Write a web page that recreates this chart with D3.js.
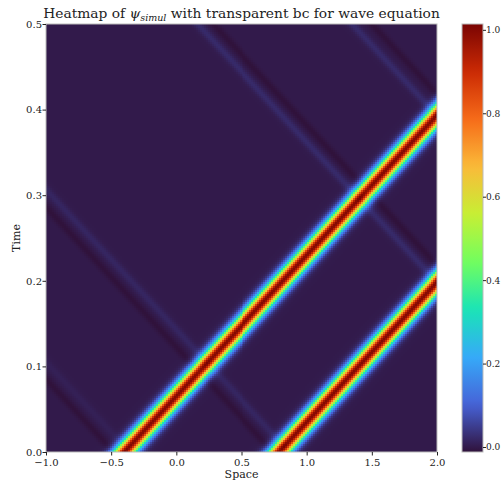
<!DOCTYPE html>
<html lang="en">
<head>
<meta charset="utf-8">
<title>Heatmap of psi simul</title>
<script src="https://cdn.jsdelivr.net/npm/d3@7"></script>
<style>
  body { margin: 0; background: #fff; }
  text { font-family: "DejaVu Serif", serif; fill: #222; }
</style>
</head>
<body>
<script>
// axes
var xDomain = [-1, 2];
var tDomain = [0, 0.5];
var xTicks = [-1, -0.5, 0, 0.5, 1, 1.5, 2];
var tTicks = [0, 0.1, 0.2, 0.3, 0.4, 0.5];
var cbarTicks = [0, 0.2, 0.4, 0.6, 0.8, 1.0];
var cbarRange = [-0.012, 1.014];

// right-going pulses : position at t=0 and height
var pulseStart = [-0.40, 0.79];
var pulseAmp = [1.0, 1.0];
var pulseSpeed = 6.1;
var pulseWidth = 0.06;

// faint left-going stuff (split of the initial data + what bounces off x=2)
var ghostStart = [-0.48, -0.36, 0.745, 0.87, 3.21, 3.33, 4.40, 4.55];
var ghostAmp = [-0.012, 0.008, -0.012, 0.016, 0.022, -0.012, 0.022, -0.012];
var ghostWidth = 0.03;

// matplotlib turbo
var turboStops = ["#30123b", "#4662d7", "#36aaf9", "#1ae4b6", "#72fe5e",
                  "#c7ef34", "#faba39", "#f66b19", "#cb2a04", "#7a0403"];

var nx = 196, nt = 214; // simulation grid

var W = 501, H = 483;
var plot = {left: 46, right: 437, top: 24, bottom: 452};
var cbar = {left: 462, right: 483};

var svg = d3.select("body").append("svg")
            .attr("width", W)
            .attr("height", H);

var x = d3.scaleLinear().domain(xDomain).range([plot.left, plot.right]);
var y = d3.scaleLinear().domain(tDomain).range([plot.bottom, plot.top]);
var color = d3.scaleSequential(d3.piecewise(d3.interpolateRgb, turboStops))
              .domain(cbarRange).clamp(true);

function g(d, w) { return Math.exp(-d * d / (2 * w * w)); }

// build the cells
var dx = (xDomain[1] - xDomain[0]) / nx;
var dt = (tDomain[1] - tDomain[0]) / nt;
var cells = [];
for (var j = 0; j < nt; j++) {
  var t = tDomain[0] + (j + 0.5) * dt;
  for (var i = 0; i < nx; i++) {
    var xc = xDomain[0] + (i + 0.5) * dx;
    var v = 0;
    pulseStart.forEach(function(p, k) {
      v += pulseAmp[k] * g(xc - (p + pulseSpeed * t), pulseWidth);
    });
    ghostStart.forEach(function(p, k) {
      v += ghostAmp[k] * g(xc - (p - pulseSpeed * t), ghostWidth);
    });
    cells.push({x0: xDomain[0] + i * dx, t0: tDomain[0] + j * dt, v: v});
  }
}

svg.append("g").selectAll("rect")
   .data(cells)
   .enter().append("rect")
   .attr("x", function(d) { return x(d.x0); })
   .attr("y", function(d) { return y(d.t0 + dt); })
   .attr("width", x(dx) - x(0) + 0.4)
   .attr("height", y(0) - y(dt) + 0.4)
   .attr("shape-rendering", "crispEdges")
   .style("fill", function(d) { return color(d.v); });

// frame
svg.append("rect")
   .attr("x", plot.left).attr("y", plot.top)
   .attr("width", plot.right - plot.left).attr("height", plot.bottom - plot.top)
   .attr("fill", "none").attr("stroke", "#bbb").attr("stroke-width", 1);

var fmt = d3.format(".1f");

var xAxis = svg.append("g")
   .attr("transform", "translate(0," + plot.bottom + ")")
   .call(d3.axisBottom(x).tickValues(xTicks).tickFormat(fmt).tickSize(3.5).tickSizeOuter(0));
var yAxis = svg.append("g")
   .attr("transform", "translate(" + plot.left + ",0)")
   .call(d3.axisLeft(y).tickValues(tTicks).tickFormat(fmt).tickSize(3.5).tickSizeOuter(0));

[xAxis, yAxis].forEach(function(a) {
  a.select(".domain").remove();
  a.selectAll("text").style("font-family", "DejaVu Serif").style("font-size", "10px").style("fill", "#222");
  a.selectAll("line").attr("stroke", "#222");
});
xAxis.selectAll("text").attr("dy", "0.95em").attr("y", 4);
yAxis.selectAll("text").attr("x", -4);

// labels
svg.append("text")
   .attr("x", (plot.left + plot.right) / 2).attr("y", 478)
   .attr("text-anchor", "middle").style("font-size", "11px")
   .text("Space");
svg.append("text")
   .attr("transform", "translate(20," + (plot.top + plot.bottom) / 2 + ") rotate(-90)")
   .attr("text-anchor", "middle").style("font-size", "11px")
   .text("Time");

var title = svg.append("text")
   .attr("x", (plot.left + plot.right) / 2).attr("y", 18)
   .attr("text-anchor", "middle").style("font-size", "13.8px");
title.append("tspan").text("Heatmap of ");
title.append("tspan").style("font-style", "italic").text("\u03c8");
title.append("tspan").style("font-style", "italic").style("font-size", "9.5px").attr("dy", 3).text("simul");
title.append("tspan").attr("dy", -3).text(" with transparent bc for wave equation");

// colorbar
var cy = d3.scaleLinear().domain(cbarRange).range([plot.bottom, plot.top]);
var grad = svg.append("defs").append("linearGradient")
   .attr("id", "cb").attr("x1", 0).attr("y1", 1).attr("x2", 0).attr("y2", 0);
grad.selectAll("stop")
   .data(d3.range(0, 1.0001, 0.02))
   .enter().append("stop")
   .attr("offset", function(d) { return d; })
   .attr("stop-color", function(d) { return color(cbarRange[0] + d * (cbarRange[1] - cbarRange[0])); });

svg.append("rect")
   .attr("x", cbar.left).attr("y", plot.top)
   .attr("width", cbar.right - cbar.left).attr("height", plot.bottom - plot.top)
   .attr("fill", "url(#cb)").attr("stroke", "#bbb");

var cAxis = svg.append("g")
   .attr("transform", "translate(" + cbar.right + ",0)")
   .call(d3.axisRight(cy).tickValues(cbarTicks).tickFormat(fmt).tickSize(3).tickSizeOuter(0));
cAxis.select(".domain").remove();
cAxis.selectAll("text").style("font-family", "DejaVu Serif").style("font-size", "9px").style("fill", "#222").attr("x", 3);
cAxis.selectAll("line").attr("stroke", "#222");
</script>
</body>
</html>
